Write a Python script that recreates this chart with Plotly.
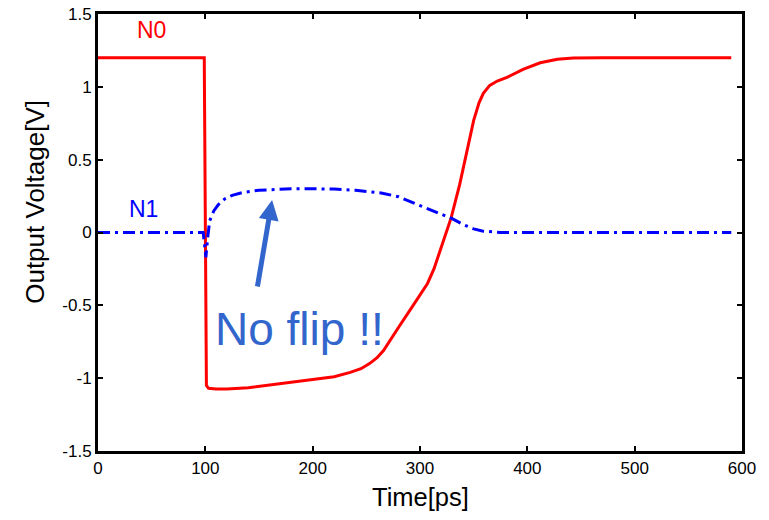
import plotly.graph_objects as go

# N0 (red, solid)
n0_t = [0, 99, 101, 103, 110, 120, 140, 160, 180, 200, 220, 235, 245, 253, 260, 266, 272,
        281, 291, 299, 307, 313, 319, 325, 329, 337, 345, 350, 355, 359, 365, 372, 381,
        396, 412, 428, 443, 470, 590]
n0_v = [1.2, 1.2, -1.05, -1.07, -1.075, -1.075, -1.065, -1.045, -1.025, -1.005, -0.99,
        -0.96, -0.935, -0.9, -0.86, -0.81, -0.74, -0.64, -0.53, -0.44, -0.35, -0.25, -0.12,
        0.0, 0.1, 0.33, 0.6, 0.77, 0.89, 0.955, 1.01, 1.04, 1.065, 1.12, 1.165, 1.19,
        1.198, 1.2, 1.2]

# N1 (blue, dash-dot)
n1_t = [0, 98, 99.5, 100.5, 102, 104, 108, 112, 118, 125, 135, 150, 165, 180, 200, 220,
        240, 255, 265, 280, 295, 310, 320, 330, 340, 350, 358, 366, 375, 590]
n1_v = [0, 0, -0.1, -0.17, -0.05, 0.08, 0.15, 0.19, 0.23, 0.255, 0.275, 0.29, 0.295, 0.3,
        0.3, 0.298, 0.29, 0.28, 0.27, 0.245, 0.2, 0.155, 0.125, 0.095, 0.055, 0.025, 0.01,
        0.003, 0, 0]

x_ticks = [0, 100, 200, 300, 400, 500, 600]
x_labels = ["0", "100", "200", "300", "400", "500", "600"]
y_ticks = [-1.5, -1, -0.5, 0, 0.5, 1, 1.5]
y_labels = ["-1.5", "-1", "-0.5", "0", "0.5", "1", "1.5"]

FONT = "Liberation Sans, Arial, Helvetica, sans-serif"

fig = go.Figure()
fig.add_trace(go.Scatter(x=n0_t, y=n0_v, mode="lines", name="N0",
                         line=dict(color="#ff0000", width=3)))
fig.add_trace(go.Scatter(x=n1_t, y=n1_v, mode="lines", name="N1",
                         line=dict(color="#0000ff", width=3, dash="12px,5px,3px,5px")))

axis_common = dict(showline=True, linecolor="black", linewidth=3, mirror="ticks",
                   ticks="inside", ticklen=5, tickwidth=1.5, tickcolor="black",
                   showgrid=False, zeroline=False, ticklabeloverflow="allow",
                   automargin=False,
                   tickfont=dict(family=FONT, size=17, color="black"))

fig.update_xaxes(range=[0, 600], tickvals=x_ticks, ticktext=x_labels, **axis_common)
fig.update_yaxes(range=[-1.5, 1.5], tickvals=y_ticks, ticktext=y_labels, **axis_common)

fig.add_annotation(x=49.4, y=1.39, text="N0", showarrow=False,
                   font=dict(family=FONT, size=23, color="#ff0000"))
fig.add_annotation(x=42, y=0.161, text="N1", showarrow=False,
                   font=dict(family=FONT, size=23, color="#0000ff"))
fig.add_annotation(x=188, y=-0.665, text="No flip !!", showarrow=False,
                   font=dict(family=FONT, size=46, color="#3366cc"))
fig.add_annotation(x=162.2, y=0.223, ax=148.3, ay=-0.381, axref="x", ayref="y",
                   text="", showarrow=True, arrowhead=2, arrowsize=0.8, arrowwidth=5,
                   arrowcolor="#3366cc")

fig.add_annotation(xref="paper", yref="paper", x=0.5, y=-0.105, xanchor="center",
                   yanchor="middle", text="Time[ps]", showarrow=False,
                   font=dict(family=FONT, size=25.5, color="black"))
fig.add_annotation(xref="paper", yref="paper", x=-0.098, y=0.57, xanchor="center",
                   yanchor="middle", textangle=-90,
                   text="Output Voltage[V]", showarrow=False,
                   font=dict(family=FONT, size=26, color="black"))

fig.update_layout(width=769, height=520, showlegend=False, hovermode=False,
                  margin=dict(l=98, r=27, t=14, b=69),
                  paper_bgcolor="white", plot_bgcolor="white")

# remove the page's default 8px body margin so the figure fills the window
fig.write_html("out.html", config={"displayModeBar": False},
               post_script="document.body.style.margin='0';document.body.style.overflow='hidden';")
